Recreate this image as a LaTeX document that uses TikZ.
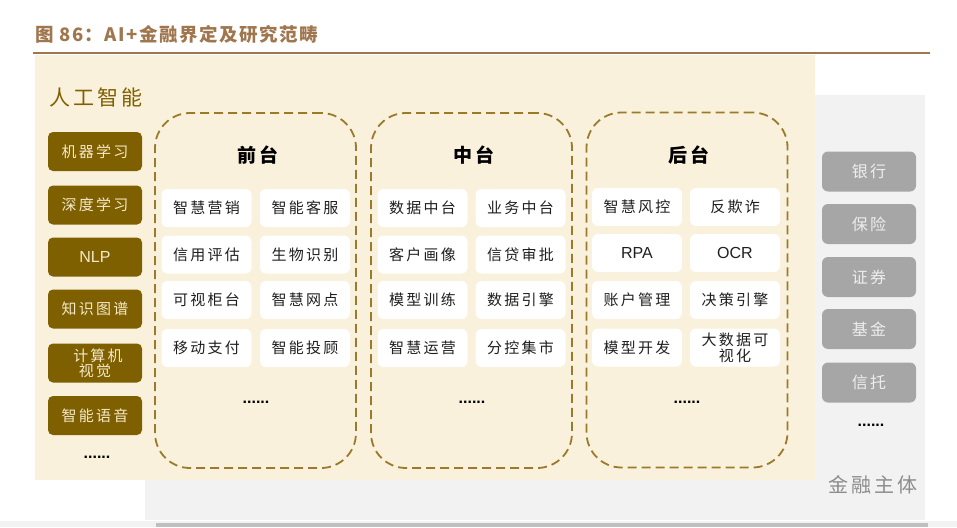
\documentclass[tikz,border=0pt]{standalone}
\usepackage{fontspec}
\setmainfont{Liberation Sans}
\newfontfamily\cjk[LetterSpace=15]{Noto Sans CJK SC}
\newfontfamily\cjkt[LetterSpace=8]{Noto Sans CJK SC}
\definecolor{titlec}{HTML}{A0764F}
\definecolor{creamc}{HTML}{FAF1DC}
\definecolor{grayc}{HTML}{F2F2F2}
\definecolor{goldc}{HTML}{7F6000}
\definecolor{dashc}{HTML}{9A7B2C}
\definecolor{aitxt}{HTML}{F5E8C8}
\definecolor{gboxc}{HTML}{A6A6A6}
\definecolor{gtxt}{HTML}{EEEEEE}
\tikzset{
  aibox/.style={rounded corners=5pt, fill=goldc, minimum width=94pt, minimum height=39pt, inner sep=1pt, text=aitxt, align=center, font=\cjk\fontsize{15}{16}\selectfont},
  wbox/.style={rounded corners=6pt, fill=white, minimum width=90pt, minimum height=38pt, inner sep=1pt, text=black!88, align=center, font=\cjk\fontsize{15}{16}\selectfont},
  gbox/.style={rounded corners=6pt, fill=gboxc, minimum width=94pt, minimum height=40pt, inner sep=1pt, text=gtxt, font=\cjk\fontsize{16}{17}\selectfont},
  panel/.style={draw=dashc, line width=1.8pt, dash pattern=on 9pt off 5pt, rounded corners=35pt, minimum width=201pt, minimum height=355pt, inner sep=0pt},
  hdr/.style={font=\cjk\bfseries\fontsize{19}{20}\selectfont, text=black},
  dotsn/.style={font=\bfseries\fontsize{16}{16}\selectfont, text=black}
}
\begin{document}
\begin{tikzpicture}[x=1pt,y=-1pt]
\useasboundingbox (0,0) rectangle (957,527);
\fill[white] (0,0) rectangle (957,527);
% bottom strips
\fill[grayc] (0,521) rectangle (957,527);
\fill[black!25] (156,523) rectangle (928,527);
% title
\node[anchor=west, text=titlec, font=\cjkt\bfseries\fontsize{18.5}{20}\selectfont, inner sep=0pt] (title) at (35,34) {图 86：AI+金融界定及研究范畴};
\draw[titlec, line width=2pt] (33,53) -- (930,53);
% backgrounds
\fill[grayc] (145,95) rectangle (925,520);
\fill[creamc] (35,55) rectangle (815,480);
% left column
\node[text=goldc, font=\cjk\fontsize{21}{22}\selectfont, inner sep=0pt] (ai) at (96,97) {人工智能};
\node[aibox] (a1) at (95,151.5) {机器学习};
\node[aibox] (a2) at (95,205) {深度学习};
\node[aibox, font=\fontsize{16}{17}\selectfont] (a3) at (95,257) {NLP};
\node[aibox] (a4) at (95,309) {知识图谱};
\node[aibox, font=\cjk\fontsize{15}{15}\selectfont] (a5) at (95,363) {\hspace{6pt}计算机\\视觉};
\node[aibox] (a6) at (95,415.5) {智能语音};
\node[dotsn] (ad) at (97,457) {......};
% panels
\node[panel] (p1) at (255.5,290.5) {};
\node[panel] (p2) at (471.5,290.5) {};
\node[panel] (p3) at (687,290) {};
\node[hdr] (h1) at (258,155) {前台};
\node[hdr] (h2) at (474,155) {中台};
\node[hdr] (h3) at (689,155) {后台};
% panel 1
\node[wbox] (b11) at (206.5,208) {智慧营销};
\node[wbox] (b12) at (305,208) {智能客服};
\node[wbox] (b13) at (206.5,254.5) {信用评估};
\node[wbox] (b14) at (305,254.5) {生物识别};
\node[wbox] (b15) at (206.5,300) {可视柜台};
\node[wbox] (b16) at (305,300) {智慧网点};
\node[wbox] (b17) at (206.5,348) {移动支付};
\node[wbox] (b18) at (305,348) {智能投顾};
\node[dotsn] (d1) at (256,402) {......};
% panel 2
\node[wbox] (b21) at (422.5,208) {数据中台};
\node[wbox] (b22) at (520.5,208) {业务中台};
\node[wbox] (b23) at (422.5,254.5) {客户画像};
\node[wbox] (b24) at (520.5,254.5) {信贷审批};
\node[wbox] (b25) at (422.5,300) {模型训练};
\node[wbox] (b26) at (520.5,300) {数据引擎};
\node[wbox] (b27) at (422.5,348) {智慧运营};
\node[wbox] (b28) at (520.5,348) {分控集市};
\node[dotsn] (d2) at (472,402) {......};
% panel 3
\node[wbox] (b31) at (637,207) {智慧风控};
\node[wbox] (b32) at (735,207) {反欺诈};
\node[wbox, font=\fontsize{16}{17}\selectfont] (b33) at (637,253) {RPA};
\node[wbox, font=\fontsize{16}{17}\selectfont] (b34) at (735,253) {OCR};
\node[wbox] (b35) at (637,300) {账户管理};
\node[wbox] (b36) at (735,300) {决策引擎};
\node[wbox] (b37) at (637,347.5) {模型开发};
\node[wbox, font=\cjk\fontsize{15}{16}\selectfont] (b38) at (735,347.5) {大数据可\\视化};
\node[dotsn] (d3) at (687,402) {......};
% right column
\node[gbox] (g1) at (869,171.5) {银行};
\node[gbox] (g2) at (869,224) {保险};
\node[gbox] (g3) at (869,277) {证券};
\node[gbox] (g4) at (869,329) {基金};
\node[gbox] (g5) at (869,382.5) {信托};
\node[dotsn] (gd) at (871,425) {......};
\node[text=black!45, font=\cjk\fontsize{20}{22}\selectfont, inner sep=0pt] (fin) at (873,485) {金融主体};
\end{tikzpicture}
\end{document}
